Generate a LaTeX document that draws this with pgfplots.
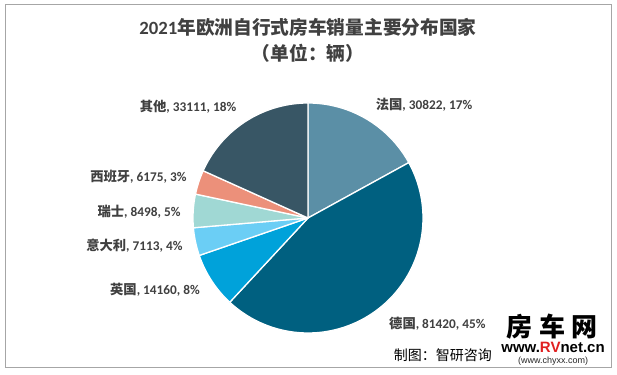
\documentclass[border=0pt]{standalone}
\usepackage{pgfplots}
\pgfplotsset{compat=1.18}
\usepackage{pgfplotstable}
\usepackage{fontspec}
\setmainfont{Carlito}
\newfontfamily\cjk{Noto Sans CJK SC}
\newfontfamily\arialf{Liberation Sans}
\definecolor{cFR}{HTML}{5B8FA6}
\definecolor{cDE}{HTML}{006080}
\definecolor{cUK}{HTML}{00A2DA}
\definecolor{cIT}{HTML}{6BCEF5}
\definecolor{cCH}{HTML}{A0D8D4}
\definecolor{cES}{HTML}{EC907A}
\definecolor{cOT}{HTML}{385665}
\definecolor{txt}{HTML}{404040}
\definecolor{frame}{HTML}{A6A6A6}
\definecolor{wmred}{HTML}{E02020}
\pgfplotstableread{
value colour
30822 cFR
81420 cDE
14160 cUK
7113 cIT
8498 cCH
6175 cES
33111 cOT
}\pietable
\begin{document}
\begin{tikzpicture}
\useasboundingbox (0,0) rectangle (617pt,374pt);
\begin{axis}[at={(0,0)}, anchor=south west, scale only axis,
  width=617pt, height=374pt, xmin=0, xmax=617, ymin=0, ymax=374,
  hide axis, clip=false]
\pgfplotstablegetrowsof{\pietable}
\pgfmathtruncatemacro\lastrow{\pgfplotsretval-1}
\def\total{0}
\pgfplotsforeachungrouped \i in {0,...,\lastrow}{%
  \pgfplotstablegetelem{\i}{value}\of\pietable
  \edef\total{\fpeval{\total+\pgfplotsretval}}%
}
\def\cum{0}
\pgfplotsforeachungrouped \i in {0,...,\lastrow}{%
  \pgfplotstablegetelem{\i}{value}\of\pietable
  \edef\v{\pgfplotsretval}%
  \pgfplotstablegetelem{\i}{colour}\of\pietable
  \edef\c{\pgfplotsretval}%
  \edef\a{\fpeval{round(90-360*\cum/\total,4)}}%
  \edef\cum{\fpeval{\cum+\v}}%
  \edef\b{\fpeval{round(90-360*\cum/\total,4)}}%
  \edef\temp{\noexpand\addplot[fill=\c, draw=white, line width=1.3pt, line join=round, domain=\b:\a, samples=90, variable=\noexpand\t] ({308+115*cos(\noexpand\t)},{156+115*sin(\noexpand\t)}) -- (axis cs:308,156) -- cycle;}%
  \temp
}
% frame
\draw[frame, line width=1pt] (axis cs:5,369) rectangle (axis cs:611,6.5);
% title
\node[txt, font=\fontsize{18.7}{20}\selectfont\bfseries] at (axis cs:308,347) {2021{\cjk 年欧洲自行式房车销量主要分布国家}};
\node[txt, font=\fontsize{18.7}{20}\selectfont\bfseries\cjk] at (axis cs:308,321) {（单位：辆）};
% labels
\tikzset{lab/.style={txt, font=\fontsize{13.3}{14}\selectfont\bfseries, inner sep=0pt}}
\node[lab, anchor=center] at (axis cs:188,267.3) {{\cjk 其他}, 33111, 18\%};
\node[lab, anchor=center] at (axis cs:424,269) {{\cjk 法国}, 30822, 17\%};
\node[lab, anchor=east] at (axis cs:186.7,197) {{\cjk 西班牙}, 6175, 3\%};
\node[lab, anchor=east] at (axis cs:180.7,162.3) {{\cjk 瑞士}, 8498, 5\%};
\node[lab, anchor=east] at (axis cs:182.7,128) {{\cjk 意大利}, 7113, 4\%};
\node[lab, anchor=east] at (axis cs:200,84) {{\cjk 英国}, 14160, 8\%};
\node[lab, anchor=west] at (axis cs:389,50) {{\cjk 德国}, 81420, 45\%};
% source and watermark
\node[black, anchor=east, inner sep=0pt, font=\fontsize{14}{15}\selectfont\cjk] at (axis cs:492,19) {制图：智研咨询};
\node[black, inner sep=0pt, font=\fontsize{26}{27}\selectfont\cjk\bfseries] at (axis cs:552,47.5) {房\hspace{7pt}车\hspace{7pt}网};
\node[black, inner sep=0pt, font=\fontsize{15}{16}\selectfont\arialf\bfseries] at (axis cs:553,26.5) {www.{\color{wmred}RV}net.cn};
\node[black!85, inner sep=0pt, font=\fontsize{9}{9.5}\selectfont\arialf] at (axis cs:553,12.5) {(www.chyxx.com)};
\end{axis}
\end{tikzpicture}
\end{document}
